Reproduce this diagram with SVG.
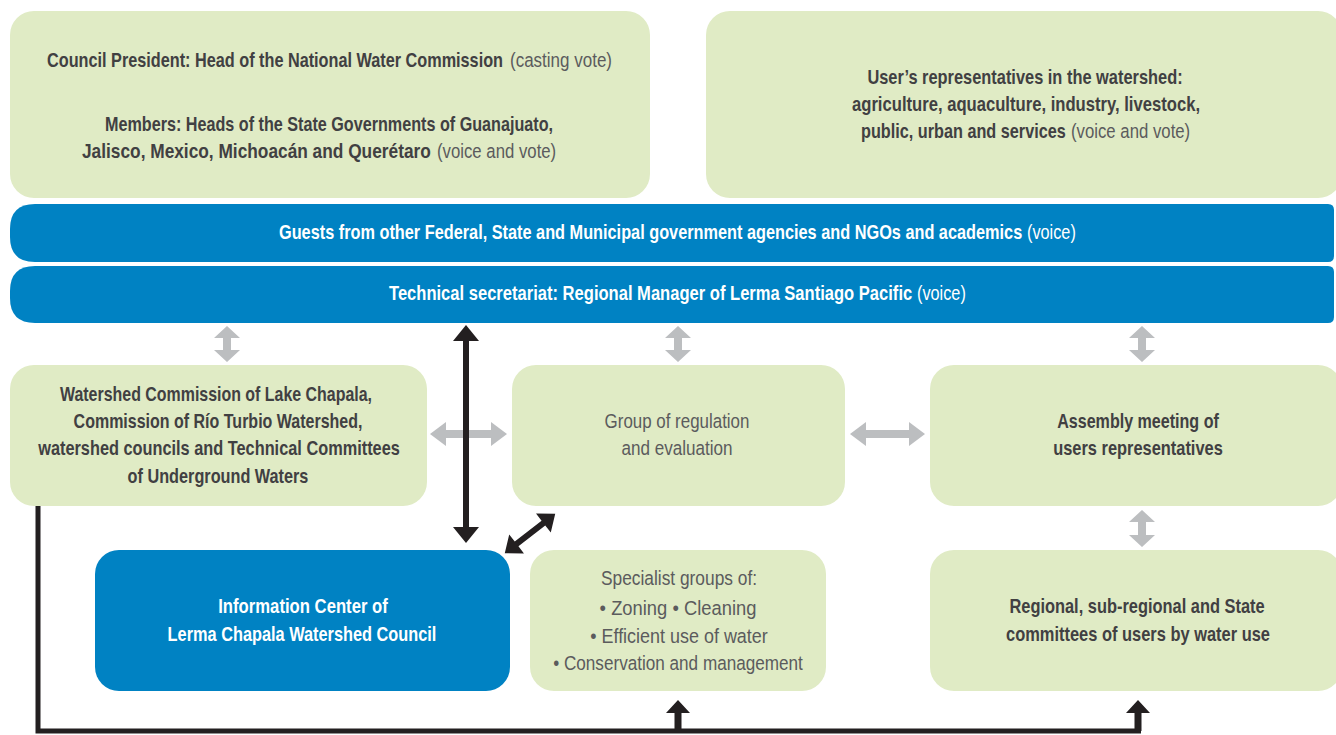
<svg xmlns="http://www.w3.org/2000/svg" width="1336" height="735" viewBox="0 0 1336 735">
  <style>
    .g { fill: #e0ebc5; }
    .b { fill: #0082c3; }
    .t { font-family: "Liberation Sans", Arial, sans-serif; font-size: 19.5px; fill: #414042; text-anchor: middle; }
    .s { text-anchor: start; }
    .bold { font-weight: bold; }
    .reg { font-weight: normal; fill: #5b5b5d; }
    .w { fill: #ffffff; }
    .ga { fill: #bcbec0; }
    .ka { fill: #231f20; }
    .kl { fill: none; stroke: #231f20; stroke-width: 5; }
  </style>

  <!-- Council president and state members -->
  <g id="council-members">
    <rect class="g" x="10" y="11" width="640" height="187" rx="24"/>
    <text class="t s bold" transform="translate(47,67) scale(0.8,1)" textLength="570" lengthAdjust="spacingAndGlyphs">Council President: Head of the National Water Commission</text>
    <text class="t s reg" transform="translate(510,67) scale(0.8,1)" textLength="127.5" lengthAdjust="spacingAndGlyphs">(casting vote)</text>
    <text class="t bold" transform="translate(329,131) scale(0.8,1)" textLength="560" lengthAdjust="spacingAndGlyphs">Members: Heads of the State Governments of Guanajuato,</text>
    <text class="t s bold" transform="translate(82,158) scale(0.8,1)" textLength="436" lengthAdjust="spacingAndGlyphs">Jalisco, Mexico, Michoacán and Querétaro</text>
    <text class="t s reg" transform="translate(437,158) scale(0.8,1)" textLength="149" lengthAdjust="spacingAndGlyphs">(voice and vote)</text>
  </g>

  <!-- Users' representatives -->
  <g id="users-representatives">
    <rect class="g" x="706" y="11" width="636" height="187" rx="24"/>
    <text class="t bold" transform="translate(1025,84) scale(0.8,1)" textLength="394" lengthAdjust="spacingAndGlyphs">User’s representatives in the watershed:</text>
    <text class="t bold" transform="translate(1026,111) scale(0.8,1)" textLength="435" lengthAdjust="spacingAndGlyphs">agriculture, aquaculture, industry, livestock,</text>
    <text class="t s bold" transform="translate(861,138) scale(0.8,1)" textLength="256" lengthAdjust="spacingAndGlyphs">public, urban and services</text>
    <text class="t s reg" transform="translate(1071,138) scale(0.8,1)" textLength="149" lengthAdjust="spacingAndGlyphs">(voice and vote)</text>
  </g>

  <!-- Guests bar -->
  <g id="guests">
    <path class="b" d="M35,204 H1328 Q1334,204 1334,210 V256 Q1334,262 1328,262 H35 Q10,262 10,237 V229 Q10,204 35,204 Z"/>
    <text class="t s bold w" transform="translate(279,239) scale(0.8,1)" textLength="929" lengthAdjust="spacingAndGlyphs">Guests from other Federal, State and Municipal government agencies and NGOs and academics</text>
    <text class="t s reg w" transform="translate(1027,239) scale(0.8,1)" textLength="61" lengthAdjust="spacingAndGlyphs">(voice)</text>
  </g>

  <!-- Technical secretariat bar -->
  <g id="technical-secretariat">
    <path class="b" d="M35,266 H1328 Q1334,266 1334,272 V317 Q1334,323 1328,323 H35 Q10,323 10,298 V291 Q10,266 35,266 Z"/>
    <text class="t s bold w" transform="translate(389,300) scale(0.8,1)" textLength="654" lengthAdjust="spacingAndGlyphs">Technical secretariat: Regional Manager of Lerma Santiago Pacific</text>
    <text class="t s reg w" transform="translate(917,300) scale(0.8,1)" textLength="61" lengthAdjust="spacingAndGlyphs">(voice)</text>
  </g>

  <!-- Watershed commissions -->
  <g id="watershed-commissions">
    <rect class="g" x="10" y="365" width="417" height="141" rx="24"/>
    <text class="t bold" transform="translate(216,401) scale(0.8,1)" textLength="390" lengthAdjust="spacingAndGlyphs">Watershed Commission of Lake Chapala,</text>
    <text class="t bold" transform="translate(218,428) scale(0.8,1)" textLength="361" lengthAdjust="spacingAndGlyphs">Commission of Río Turbio Watershed,</text>
    <text class="t bold" transform="translate(219,455) scale(0.8,1)" textLength="452" lengthAdjust="spacingAndGlyphs">watershed councils and Technical Committees</text>
    <text class="t bold" transform="translate(218,483) scale(0.8,1)" textLength="226" lengthAdjust="spacingAndGlyphs">of Underground Waters</text>
  </g>

  <!-- Regulation and evaluation group -->
  <g id="regulation-group">
    <rect class="g" x="512" y="365" width="333" height="141" rx="24"/>
    <text class="t reg" transform="translate(677,428) scale(0.8,1)" textLength="181" lengthAdjust="spacingAndGlyphs">Group of regulation</text>
    <text class="t reg" transform="translate(677,455) scale(0.8,1)" textLength="139" lengthAdjust="spacingAndGlyphs">and evaluation</text>
  </g>

  <!-- Assembly meeting -->
  <g id="assembly-meeting">
    <rect class="g" x="930" y="365" width="412" height="141" rx="24"/>
    <text class="t bold" transform="translate(1138,428) scale(0.8,1)" textLength="202" lengthAdjust="spacingAndGlyphs">Assembly meeting of</text>
    <text class="t bold" transform="translate(1138,455) scale(0.8,1)" textLength="212" lengthAdjust="spacingAndGlyphs">users representatives</text>
  </g>

  <!-- Information center -->
  <g id="information-center">
    <rect class="b" x="95" y="550" width="415" height="141" rx="24"/>
    <text class="t bold w" transform="translate(303,613) scale(0.8,1)" textLength="212" lengthAdjust="spacingAndGlyphs">Information Center of</text>
    <text class="t bold w" transform="translate(302,641) scale(0.8,1)" textLength="336" lengthAdjust="spacingAndGlyphs">Lerma Chapala Watershed Council</text>
  </g>

  <!-- Specialist groups -->
  <g id="specialist-groups">
    <rect class="g" x="530" y="550" width="296" height="141" rx="24"/>
    <text class="t reg" transform="translate(679,585) scale(0.8,1)" textLength="195" lengthAdjust="spacingAndGlyphs">Specialist groups of:</text>
    <text class="t reg" transform="translate(678,615) scale(0.8,1)" textLength="196" lengthAdjust="spacingAndGlyphs">•  Zoning • Cleaning</text>
    <text class="t reg" transform="translate(679,643) scale(0.8,1)" textLength="222" lengthAdjust="spacingAndGlyphs">•  Efficient use of water</text>
    <text class="t reg" transform="translate(678,670) scale(0.8,1)" textLength="312" lengthAdjust="spacingAndGlyphs">• Conservation and management</text>
  </g>

  <!-- Regional committees -->
  <g id="regional-committees">
    <rect class="g" x="930" y="550" width="412" height="141" rx="24"/>
    <text class="t bold" transform="translate(1137,613) scale(0.8,1)" textLength="319" lengthAdjust="spacingAndGlyphs">Regional, sub-regional and State</text>
    <text class="t bold" transform="translate(1138,641) scale(0.8,1)" textLength="330" lengthAdjust="spacingAndGlyphs">committees of users by water use</text>
  </g>

  <!-- Connectors -->
  <g id="connectors">
    <!-- grey two-way arrows (vertical) -->
    <path class="ga" d="M227,326 L240,338 L231,338 L231,350 L240,350 L227,362 L214,350 L223,350 L223,338 L214,338 Z"/>
    <path class="ga" d="M678,326 L691,338 L682,338 L682,350 L691,350 L678,362 L665,350 L674,350 L674,338 L665,338 Z"/>
    <path class="ga" d="M1142,326 L1155,338 L1146,338 L1146,350 L1155,350 L1142,362 L1129,350 L1138,350 L1138,338 L1129,338 Z"/>
    <path class="ga" d="M1142,510 L1155,522 L1146,522 L1146,535 L1155,535 L1142,547 L1129,535 L1138,535 L1138,522 L1129,522 Z"/>
    <!-- grey two-way arrows (horizontal) -->
    <path class="ga" d="M430,434 L446,422 L446,430 L491,430 L491,422 L507,434 L491,446 L491,438 L446,438 L446,446 Z"/>
    <path class="ga" d="M850,434 L866,422 L866,430 L909,430 L909,422 L925,434 L909,446 L909,438 L866,438 L866,446 Z"/>

    <!-- black two-way arrow: secretariat to information center -->
    <path class="ka" d="M466,325 L479,341 L469,341 L469,527 L479,527 L466,543 L453,527 L463,527 L463,341 L453,341 Z"/>
    <!-- black two-way arrow: regulation group to information center -->
    <g transform="translate(530,533.5) rotate(-37.95)">
      <path class="ka" d="M-32,0 L-17,-12 L-17,-3 L17,-3 L17,-12 L32,0 L17,12 L17,3 L-17,3 L-17,12 Z"/>
    </g>

    <!-- black feed line from watershed commissions -->
    <polyline class="kl" points="38,506 38,731 1141,731"/>
    <path class="ka" d="M678,700 L690,713 L681.5,713 L681.5,731 L674.5,731 L674.5,713 L666,713 Z"/>
    <path class="ka" d="M1138,700 L1150,713 L1141.5,713 L1141.5,731 L1134.5,731 L1134.5,713 L1126,713 Z"/>
  </g>
</svg>
